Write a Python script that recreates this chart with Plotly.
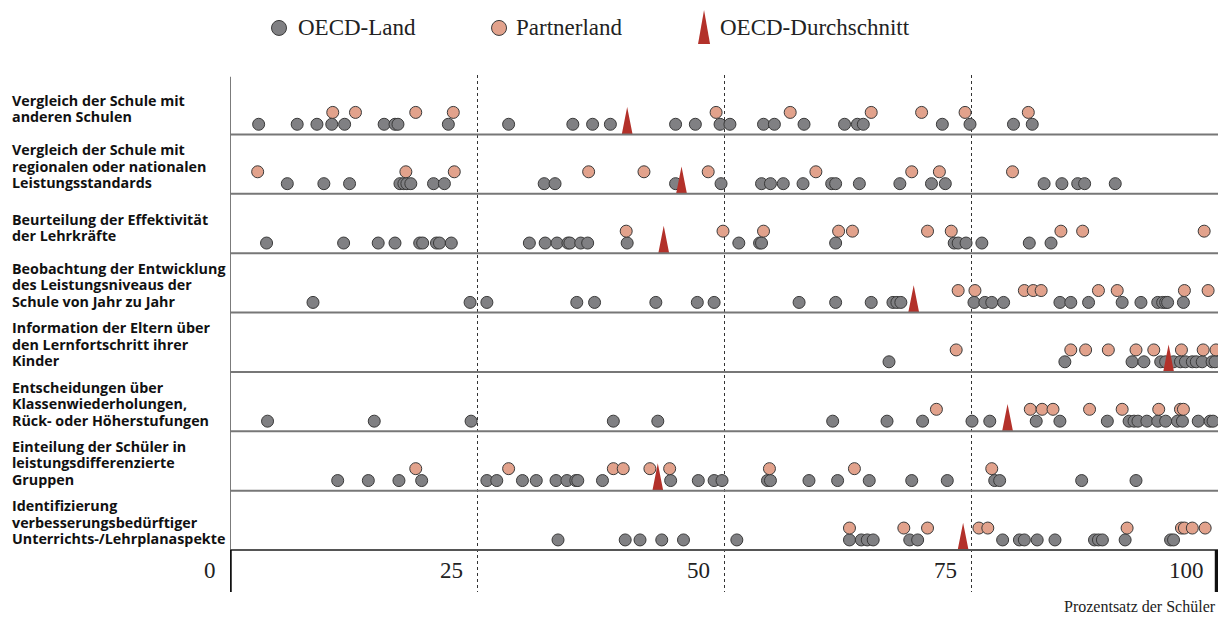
import plotly.graph_objects as go

CATEGORIES = [
    "Vergleich der Schule mit<br>anderen Schulen",
    "Vergleich der Schule mit<br>regionalen oder nationalen<br>Leistungsstandards",
    "Beurteilung der Effektivität<br>der Lehrkräfte",
    "Beobachtung der Entwicklung<br>des Leistungsniveaus der<br>Schule von Jahr zu Jahr",
    "Information der Eltern über<br>den Lernfortschritt ihrer<br>Kinder",
    "Entscheidungen über<br>Klassenwiederholungen,<br>Rück- oder Höherstufungen",
    "Einteilung der Schüler in<br>leistungsdifferenzierte<br>Gruppen",
    "Identifizierung<br>verbesserungsbedürftiger<br>Unterrichts-/Lehrplanaspekte",
]

OECD_LAND = [
    [2.9, 6.8, 8.8, 10.3, 11.6, 15.6, 16.7, 17.0, 22.1, 28.2, 34.7, 36.7, 38.5, 45.1, 47.1,
     49.6, 50.6, 54.0, 55.1, 58.1, 62.2, 63.5, 64.1, 72.1, 74.9, 79.3, 81.2],
    [5.8, 9.5, 12.1, 17.2, 17.6, 17.9, 18.3, 20.6, 21.7, 31.8, 32.9, 45.1, 49.7, 53.8, 54.7,
     56.0, 58.0, 60.9, 61.3, 63.7, 67.8, 71.0, 72.4, 82.4, 84.2, 85.8, 86.5, 89.6],
    [3.7, 11.5, 15.0, 16.7, 19.2, 19.5, 20.9, 21.2, 22.4, 30.3, 31.9, 33.1, 34.2, 34.4, 35.5,
     36.2, 40.2, 51.5, 53.6, 53.8, 61.3, 73.3, 73.7, 74.5, 76.1, 80.9, 83.1],
    [8.4, 24.3, 26.0, 35.1, 36.9, 43.1, 47.3, 49.0, 57.6, 61.3, 64.9, 67.1, 67.5, 67.9, 75.3,
     76.4, 77.1, 78.3, 84.0, 85.1, 86.9, 90.3, 92.2, 93.9, 94.4, 94.7, 94.9, 96.5],
    [66.7, 84.5, 91.3, 92.5, 94.2, 94.7, 95.5, 96.2, 96.7, 97.4, 97.8, 98.4, 99.4, 99.7],
    [3.8, 14.6, 24.4, 38.8, 43.3, 61.0, 66.5, 70.1, 75.1, 76.9, 81.6, 84.0, 88.8, 91.0, 91.5,
     91.9, 92.8, 93.9, 94.7, 95.9, 96.4, 98.0, 99.2, 99.5],
    [10.9, 14.0, 17.1, 19.4, 26.0, 27.0, 29.6, 31.0, 33.0, 34.1, 35.0, 35.2, 37.7, 44.6, 47.4,
     49.0, 49.8, 54.4, 54.7, 58.6, 61.5, 64.7, 69.0, 72.6, 77.4, 77.9, 86.2, 91.7],
    [33.2, 40.0, 41.5, 43.7, 45.9, 51.3, 62.7, 63.9, 64.5, 65.1, 68.8, 69.6, 78.2, 79.9, 80.4,
     81.7, 83.5, 87.5, 87.9, 88.3, 90.6, 95.2, 95.5],
]

PARTNERLAND = [
    [10.4, 12.7, 18.8, 22.6, 49.2, 56.7, 64.9, 70.0, 74.4, 80.8],
    [2.8, 17.8, 22.7, 36.3, 41.9, 48.4, 59.3, 69.0, 71.8, 79.2],
    [40.1, 49.9, 54.0, 61.6, 63.0, 70.6, 73.0, 84.1, 86.3, 98.6],
    [73.7, 75.4, 80.4, 81.3, 82.1, 87.9, 89.8, 96.6, 99.0],
    [73.5, 85.1, 86.6, 88.9, 91.7, 93.5, 96.3, 98.5, 99.8],
    [71.5, 81.0, 82.2, 83.3, 87.0, 90.3, 94.0, 96.2, 96.5],
    [18.8, 28.2, 38.8, 39.8, 42.5, 44.5, 54.6, 63.2, 77.1],
    [62.7, 68.2, 70.6, 75.8, 76.7, 90.8, 96.3, 96.6, 97.4, 98.7],
]

OECD_AVERAGE = [40.2, 45.7, 43.9, 69.2, 95.0, 78.7, 43.3, 74.2]

TICK_VALUES = [0, 25, 50, 75, 100]
TICK_LABELS = ["0", "25", "50", "75", "100"]

GREY = "#808083"
SALMON = "#E2A28C"
RED = "#B3312A"
EDGE = "#3a3a3a"
SERIF = "Liberation Serif"
SANS = "Open Sans"

n_rows = len(CATEGORIES)
y_bottom = n_rows + 0.707


def row_points(rows, offset):
    xs, ys = [], []
    for i, vals in enumerate(rows):
        xs += vals
        ys += [i + offset] * len(vals)
    return xs, ys


def triangle_path(values, half_width=0.55, height=0.46):
    xs, ys = [], []
    for i, v in enumerate(values):
        base = i + 1
        xs += [v - half_width, v + half_width, v, v - half_width, None]
        ys += [base, base, base - height, base, None]
    return xs, ys


gx, gy = row_points(OECD_LAND, 0.83)
px, py = row_points(PARTNERLAND, 0.63)
tx, ty = triangle_path(OECD_AVERAGE)

fig = go.Figure()
fig.add_trace(go.Scatter(x=gx, y=gy, mode="markers", showlegend=False,
                         marker=dict(size=12, color=GREY, line=dict(width=1, color=EDGE))))
fig.add_trace(go.Scatter(x=px, y=py, mode="markers", showlegend=False,
                         marker=dict(size=12, color=SALMON, line=dict(width=1, color=EDGE))))
fig.add_trace(go.Scatter(x=tx, y=ty, mode="lines", fill="toself", fillcolor=RED,
                         line=dict(width=0, color=RED), showlegend=False))

shapes = []
# left border of rows + separators
shapes.append(dict(type="line", xref="x", yref="y", x0=0, x1=0, y0=0.03, y1=n_rows,
                   line=dict(color="#222", width=1.2)))
for i in range(1, n_rows + 1):
    shapes.append(dict(type="line", xref="x", yref="y", x0=0, x1=100, y0=i, y1=i,
                       line=dict(color="#777" if i < n_rows else "#555", width=2)))
# thick axis end bars
for xv in (0, 99.85):
    shapes.append(dict(type="line", xref="x", yref="y", x0=xv, x1=xv, y0=n_rows, y1=y_bottom,
                       line=dict(color="#111", width=3.5)))

# hand-made legend
leg_y = 1.091
shapes.append(dict(type="circle", xref="paper", yref="paper", xsizemode="pixel", ysizemode="pixel",
                   xanchor=0.0496, yanchor=leg_y, x0=-7.5, x1=7.5, y0=-7.5, y1=7.5,
                   fillcolor=GREY, line=dict(color=EDGE, width=1)))
shapes.append(dict(type="circle", xref="paper", yref="paper", xsizemode="pixel", ysizemode="pixel",
                   xanchor=0.2723, yanchor=leg_y, x0=-7.5, x1=7.5, y0=-7.5, y1=7.5,
                   fillcolor=SALMON, line=dict(color=EDGE, width=1)))
shapes.append(dict(type="path", xref="paper", yref="paper", xsizemode="pixel", ysizemode="pixel",
                   xanchor=0.4798, yanchor=leg_y, path="M -6,-16 L 6,-16 L 0,18 Z",
                   fillcolor=RED, line=dict(width=0)))

annotations = []
for text, xp in [("OECD-Land", 0.0668), ("Partnerland", 0.2870), ("OECD-Durchschnitt", 0.4939)]:
    annotations.append(dict(text=text, xref="paper", yref="paper", x=xp, y=leg_y,
                            xanchor="left", yanchor="middle", showarrow=False,
                            font=dict(family=SERIF, size=23, color="#222")))

# row labels, one annotation per line to keep the tight line spacing
line_gap = 16.5
for i, label in enumerate(CATEGORIES):
    lines = label.split("<br>")
    drop = 4 if len(lines) == 2 else 2
    for k, line in enumerate(lines):
        shift = ((len(lines) - 1) / 2 - k) * line_gap - drop
        annotations.append(dict(text=f"<b>{line}</b>", xref="paper", yref="y", x=-0.2227, y=i + 0.5,
                                yshift=shift, xanchor="left", yanchor="middle", showarrow=False,
                                font=dict(family=SANS, size=14.3, color="#111")))

for v, lab in zip(TICK_VALUES, TICK_LABELS):
    annotations.append(dict(text=lab, xref="x", yref="y", x=v, y=n_rows + 0.34,
                            xanchor="right", yanchor="middle", xshift=-12, showarrow=False,
                            font=dict(family=SERIF, size=23, color="#222")))

annotations.append(dict(text="Prozentsatz der Schüler", xref="paper", yref="paper", x=1, y=-0.029,
                        xanchor="right", yanchor="middle", showarrow=False,
                        font=dict(family=SERIF, size=16, color="#222")))

# the page body has an 8px margin and the plot div is clipped to the body width
fig.update_layout(
    width=1210, height=609,
    margin=dict(l=222, r=0, t=67, b=25),
    plot_bgcolor="white", paper_bgcolor="white",
    showlegend=False,
    shapes=shapes, annotations=annotations,
    xaxis=dict(range=[0, 100], tickvals=TICK_VALUES[1:-1], showticklabels=False, ticks="",
               showgrid=True, gridcolor="#333", griddash="3px,3px", gridwidth=1,
               zeroline=False, showline=False),
    yaxis=dict(range=[y_bottom, 0], showgrid=False, showticklabels=False, zeroline=False,
               showline=False, ticks=""),
)

fig.write_html("out.html")
